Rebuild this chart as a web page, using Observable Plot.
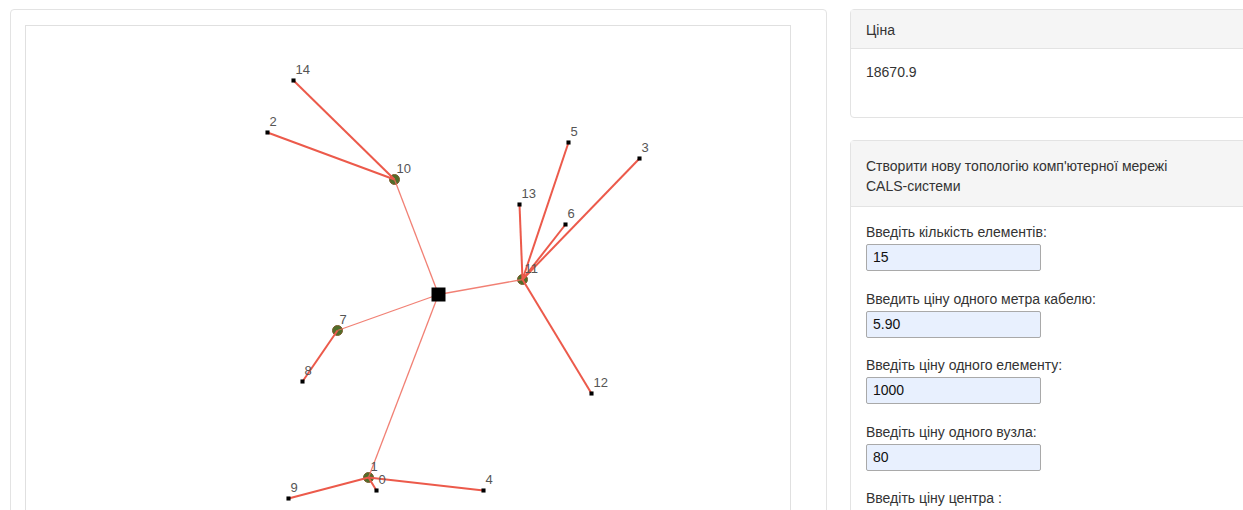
<!DOCTYPE html>
<html>
<head>
<meta charset="utf-8">
<script src="https://cdn.jsdelivr.net/npm/d3@7"></script>
<script src="https://cdn.jsdelivr.net/npm/@observablehq/plot@0.6"></script>
<style>
  html, body { margin: 0; padding: 0; background: #fff; overflow: hidden; width: 1243px; height: 510px; }
  body { font-family: "Liberation Sans", Arial, Helvetica, sans-serif; font-size: 14px; color: #333; position: relative; }
  .card { position: absolute; border: 1px solid #e3e3e3; border-radius: 4px; background: #fff; box-sizing: border-box; }
  #left { left: 10px; top: 9px; width: 817px; height: 560px; }
  #chartbox { position: absolute; left: 25px; top: 25px; width: 766px; height: 560px; border: 1px solid #e0e0e0; box-sizing: border-box; background: #fff; }
  #chartbox svg { display: block; }
  .hdr { background: #f5f5f5; border-bottom: 1px solid #e3e3e3; padding: 10px 15px; line-height: 20px; }
  .body { padding: 15px 15px; }
  #price { left: 850px; top: 9px; width: 420px; height: 109px; }
  #form { left: 850px; top: 140px; width: 420px; height: 420px; }
  label { display: block; line-height: 20px; margin-bottom: 2px; }
  .inp { width: 175px; height: 27px; box-sizing: border-box; border: 1px solid #a9a9a9; border-radius: 2px; background: #e8f0fe; padding: 3px 6px; line-height: 19px; margin-bottom: 17.5px; color: #111; }
</style>
</head>
<body>
<div class="card" id="left"></div>
<div id="chartbox"></div>
<div class="card" id="price">
  <div class="hdr" style="padding-top:10px;padding-bottom:8px">Ціна</div>
  <div class="body" style="padding-top:15px">18670.9</div>
</div>
<div class="card" id="form">
  <div class="hdr" style="padding-top:15px;padding-bottom:10px">Створити нову топологію комп'ютерної мережі<br>CALS-системи</div>
  <div class="body" style="padding-top:15px">
    <label>Введіть кількість елементів:</label><div class="inp">15</div>
    <label>Введить ціну одного метра кабелю:</label><div class="inp">5.90</div>
    <label>Введіть ціну одного елементу:</label><div class="inp">1000</div>
    <label>Введіть ціну одного вузла:</label><div class="inp">80</div>
    <label>Введіть ціну центра :</label>
  </div>
</div>
<script>
// Node data (SVG-local pixel space)
const nodeIds   = ["C", 10, 14, 2, 11, 5, 3, 13, 6, 12, 7, 8, 1, 0, 9, 4];
const nodeX     = [412, 368, 267, 241, 496, 542, 613, 493, 539, 565, 311, 276, 342, 350, 262, 457];
const nodeY     = [268, 153, 54, 106, 253, 116, 132, 178, 198, 367, 304, 355, 451, 464, 472, 464];
const nodeKind  = ["center", "hub", "leaf", "leaf", "hub", "leaf", "leaf", "leaf", "leaf", "leaf", "hub", "leaf", "hub", "leaf", "leaf", "leaf"];
const nodeParent= [null, "C", 10, 10, "C", 11, 11, 11, 11, 11, "C", 7, "C", 1, 1, 1];

const nodes = nodeIds.map((id, i) => ({id, x: nodeX[i], y: nodeY[i], kind: nodeKind[i], parent: nodeParent[i]}));
const byId = new Map(nodes.map(n => [n.id, n]));
const edges = nodes.filter(n => n.parent !== null).map(n => {
  const p = byId.get(n.parent);
  return {x1: p.x, y1: p.y, x2: n.x, y2: n.y, main: n.parent === "C"};
});

const W = 764, H = 540;
const plot = Plot.plot({
  width: W, height: H,
  margin: 0,
  x: {domain: [0, W], axis: null},
  y: {domain: [0, H], reverse: true, axis: null},
  marks: [
    Plot.dot(nodes.filter(d => d.kind === "hub"), {x: "x", y: "y", r: 5, fill: "#4f6e2a", stroke: "#7a5a2a", strokeWidth: 1}),
    Plot.link(edges.filter(d => d.main), {x1: "x1", y1: "y1", x2: "x2", y2: "y2", stroke: "#ef6a5c", strokeWidth: 1.3, strokeOpacity: 0.85}),
    Plot.link(edges.filter(d => !d.main), {x1: "x1", y1: "y1", x2: "x2", y2: "y2", stroke: "#ec5a4b", strokeWidth: 2}),
    Plot.dot(nodes.filter(d => d.kind === "leaf"), {x: "x", y: "y", r: 2.3, symbol: "square", fill: "#000", stroke: "none"}),
    Plot.dot(nodes.filter(d => d.kind === "center"), {x: "x", y: "y", r: 7.9, symbol: "square", fill: "#000", stroke: "none"}),
    Plot.text(nodes.filter(d => d.kind !== "center"), {x: "x", y: "y", text: d => String(d.id), dx: 2, dy: -11, textAnchor: "start", fill: "#555", fontSize: 13, fontFamily: "Liberation Sans, Arial, sans-serif"})
  ]
});
document.getElementById("chartbox").appendChild(plot);
</script>
</body>
</html>
